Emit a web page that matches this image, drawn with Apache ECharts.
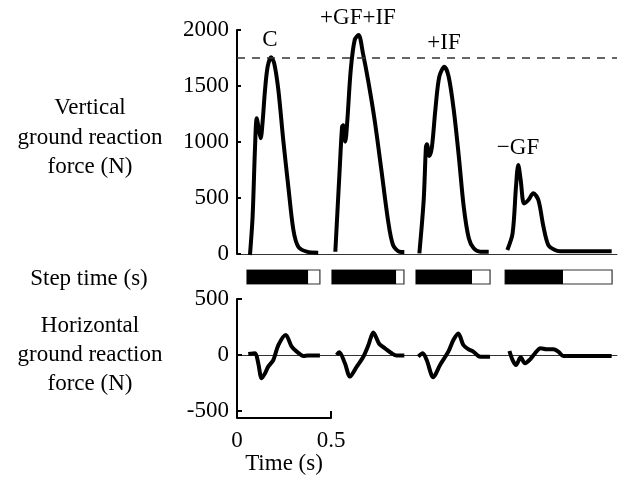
<!DOCTYPE html>
<html>
<head>
<meta charset="utf-8">
<script src="https://cdn.jsdelivr.net/npm/echarts@6/dist/echarts.min.js"></script>
<style>
  html, body { margin: 0; padding: 0; background: #fff; }
  #chart { width: 620px; height: 479px; }
</style>
</head>
<body>
<div id="chart"></div>
<script>
// vertical ground reaction force, [time s, force N]
const vertC = [[0.069,-9],[0.083,333],[0.096,958],[0.105,1211],[0.117,1107],[0.126,1033],[0.137,1196],[0.149,1464],[0.163,1672],[0.181,1756],[0.198,1702],[0.220,1464],[0.246,1018],[0.273,601],[0.300,214],[0.326,65],[0.371,21],[0.432,12]]
const vertGFIF = [[0.523,20],[0.546,750],[0.559,1137],[0.565,1150],[0.576,1003],[0.587,1196],[0.605,1643],[0.626,1911],[0.647,1955],[0.670,1792],[0.697,1554],[0.732,1196],[0.768,750],[0.803,304],[0.830,80],[0.865,20],[0.890,18]]
const vertIF = [[0.970,6],[0.993,482],[1.005,958],[1.010,979],[1.023,875],[1.037,958],[1.055,1286],[1.076,1583],[1.103,1672],[1.126,1583],[1.153,1286],[1.180,869],[1.206,422],[1.233,140],[1.259,51],[1.294,21],[1.339,21]]
const vertGF = [[1.438,36],[1.466,185],[1.484,601],[1.496,795],[1.509,661],[1.527,452],[1.550,482],[1.576,542],[1.603,482],[1.630,244],[1.656,80],[1.691,36],[1.718,25],[1.993,25]]

// horizontal ground reaction force
const horC = [[0.060,9],[0.096,15],[0.113,-74],[0.131,-208],[0.149,-164],[0.166,-104],[0.193,-45],[0.220,89],[0.259,179],[0.291,74],[0.318,30],[0.353,-9],[0.378,-5],[0.441,-5]]
const horGFIF = [[0.530,0],[0.544,24],[0.574,-74],[0.601,-193],[0.637,-104],[0.672,-15],[0.699,89],[0.725,200],[0.757,98],[0.787,60],[0.823,15],[0.849,-5],[0.890,-5]]
const horIF = [[0.964,-15],[0.988,15],[1.009,-45],[1.044,-199],[1.080,-89],[1.124,30],[1.151,134],[1.177,193],[1.204,89],[1.231,51],[1.257,30],[1.284,-9],[1.296,-15],[1.346,-15]]
const horGF = [[1.449,36],[1.466,-45],[1.484,-89],[1.509,-21],[1.532,-74],[1.559,-39],[1.585,15],[1.615,60],[1.647,51],[1.683,51],[1.709,30],[1.736,-9],[1.993,-9]]

// step time bars: start, end of stance (black), end of step
const stepStart = [0.053, 0.505, 0.952, 1.426]
const stepStance = [0.378, 0.846, 1.250, 1.734]
const stepEnd = [0.441, 0.888, 1.346, 1.995]

const conditions = ['C', '+GF+IF', '+IF', '\u2212GF']
const thresholdForce = 1750

const FONT = 'Liberation Serif'
const FS = 23
const xMax = 380 / 188

var dom = document.getElementById('chart');
var myChart = echarts.init(dom, null, { renderer: 'canvas' });

const lineSeries = (data, xi, yi) => ({
    type: 'line',
    xAxisIndex: xi,
    yAxisIndex: yi,
    data: data,
    showSymbol: false,
    smooth: 0.3,
    lineStyle: { color: '#000', width: 4 },
    animation: false
})

const stepData = stepStart.map((s, i) => [s, stepStance[i], stepEnd[i]])

const valueX = (gi, extra) => Object.assign({
    type: 'value', gridIndex: gi, min: 0, max: xMax,
    axisLine: { show: true, onZero: true, lineStyle: { color: '#333', width: 1 } },
    axisTick: { show: false }, axisLabel: { show: false }, splitLine: { show: false }
}, extra || {})

const text = (x, y, s) => ({
    type: 'text', x: x, y: y,
    style: { text: s, font: FS + 'px ' + FONT, fill: '#000', align: 'center', verticalAlign: 'middle' }
})

const tickLabel = { margin: 8, fontFamily: FONT, fontSize: FS, color: '#000', formatter: v => String(v) }

var option = {
    backgroundColor: '#fff',
    animation: false,
    grid: [
        { left: 237, top: 30, width: 380, height: 224 },
        { left: 237, top: 299, width: 380, height: 112 },
        { left: 237, top: 270, width: 380, height: 14 },
        { left: 237, top: 412, width: 94, height: 6 }
    ],
    xAxis: [
        valueX(0),
        valueX(1),
        valueX(2, { axisLine: { show: false } }),
        {
            type: 'value', gridIndex: 3, min: 0, max: 0.5, interval: 0.5,
            axisLine: { show: true, lineStyle: { color: '#000', width: 2 } },
            axisTick: { show: true, inside: true, length: 7, lineStyle: { color: '#000', width: 2 } },
            axisLabel: Object.assign({}, tickLabel, { margin: 11 }),
            splitLine: { show: false },
            name: 'Time (s)', nameLocation: 'middle', nameGap: 32,
            nameTextStyle: { fontFamily: FONT, fontSize: FS, color: '#000' }
        }
    ],
    yAxis: [
        {
            type: 'value', gridIndex: 0, min: 0, max: 2000, interval: 500,
            axisLine: { show: true, lineStyle: { color: '#000', width: 2 } },
            axisTick: { show: true, inside: true, length: 4, lineStyle: { color: '#000', width: 2 } },
            axisLabel: tickLabel,
            splitLine: { show: false }
        },
        {
            type: 'value', gridIndex: 1, min: -500, max: 500, interval: 500,
            axisLine: { show: true, lineStyle: { color: '#000', width: 2 } },
            axisTick: { show: true, inside: true, length: 5, lineStyle: { color: '#000', width: 2 } },
            axisLabel: tickLabel,
            splitLine: { show: false }
        },
        { type: 'value', gridIndex: 2, min: 0, max: 1, show: false },
        { type: 'value', gridIndex: 3, min: 0, max: 1, show: false }
    ],
    graphic: [
        text(90, 108, 'Vertical'),
        text(90, 138, 'ground reaction'),
        text(90, 167, 'force (N)'),
        text(89, 279, 'Step time (s)'),
        text(90, 326, 'Horizontal'),
        text(90, 355, 'ground reaction'),
        text(90, 384, 'force (N)'),
        text(270, 40, conditions[0]),
        text(358, 18, conditions[1]),
        text(444, 43, conditions[2]),
        text(518, 148, conditions[3])
    ],
    series: [
        Object.assign(lineSeries(vertC, 0, 0), {
            markLine: {
                silent: true, symbol: 'none', label: { show: false },
                lineStyle: { type: [8, 7], color: '#333', width: 1.5 },
                data: [{ yAxis: thresholdForce }]
            }
        }),
        lineSeries(vertGFIF, 0, 0),
        lineSeries(vertIF, 0, 0),
        lineSeries(vertGF, 0, 0),
        lineSeries(horC, 1, 1),
        lineSeries(horGFIF, 1, 1),
        lineSeries(horIF, 1, 1),
        lineSeries(horGF, 1, 1),
        {
            type: 'custom',
            xAxisIndex: 2,
            yAxisIndex: 2,
            data: stepData,
            renderItem: function (params, api) {
                const s = api.coord([api.value(0), 1])
                const b = api.coord([api.value(1), 0])
                const e = api.coord([api.value(2), 0])
                const h = e[1] - s[1]
                return {
                    type: 'group',
                    children: [
                        { type: 'rect', shape: { x: s[0], y: s[1], width: e[0] - s[0], height: h }, style: { fill: '#fff', stroke: '#333', lineWidth: 1.2 } },
                        { type: 'rect', shape: { x: s[0], y: s[1], width: b[0] - s[0], height: h }, style: { fill: '#000' } }
                    ]
                }
            }
        }
    ]
};

myChart.setOption(option);
window.addEventListener('resize', myChart.resize);
</script>
</body>
</html>
